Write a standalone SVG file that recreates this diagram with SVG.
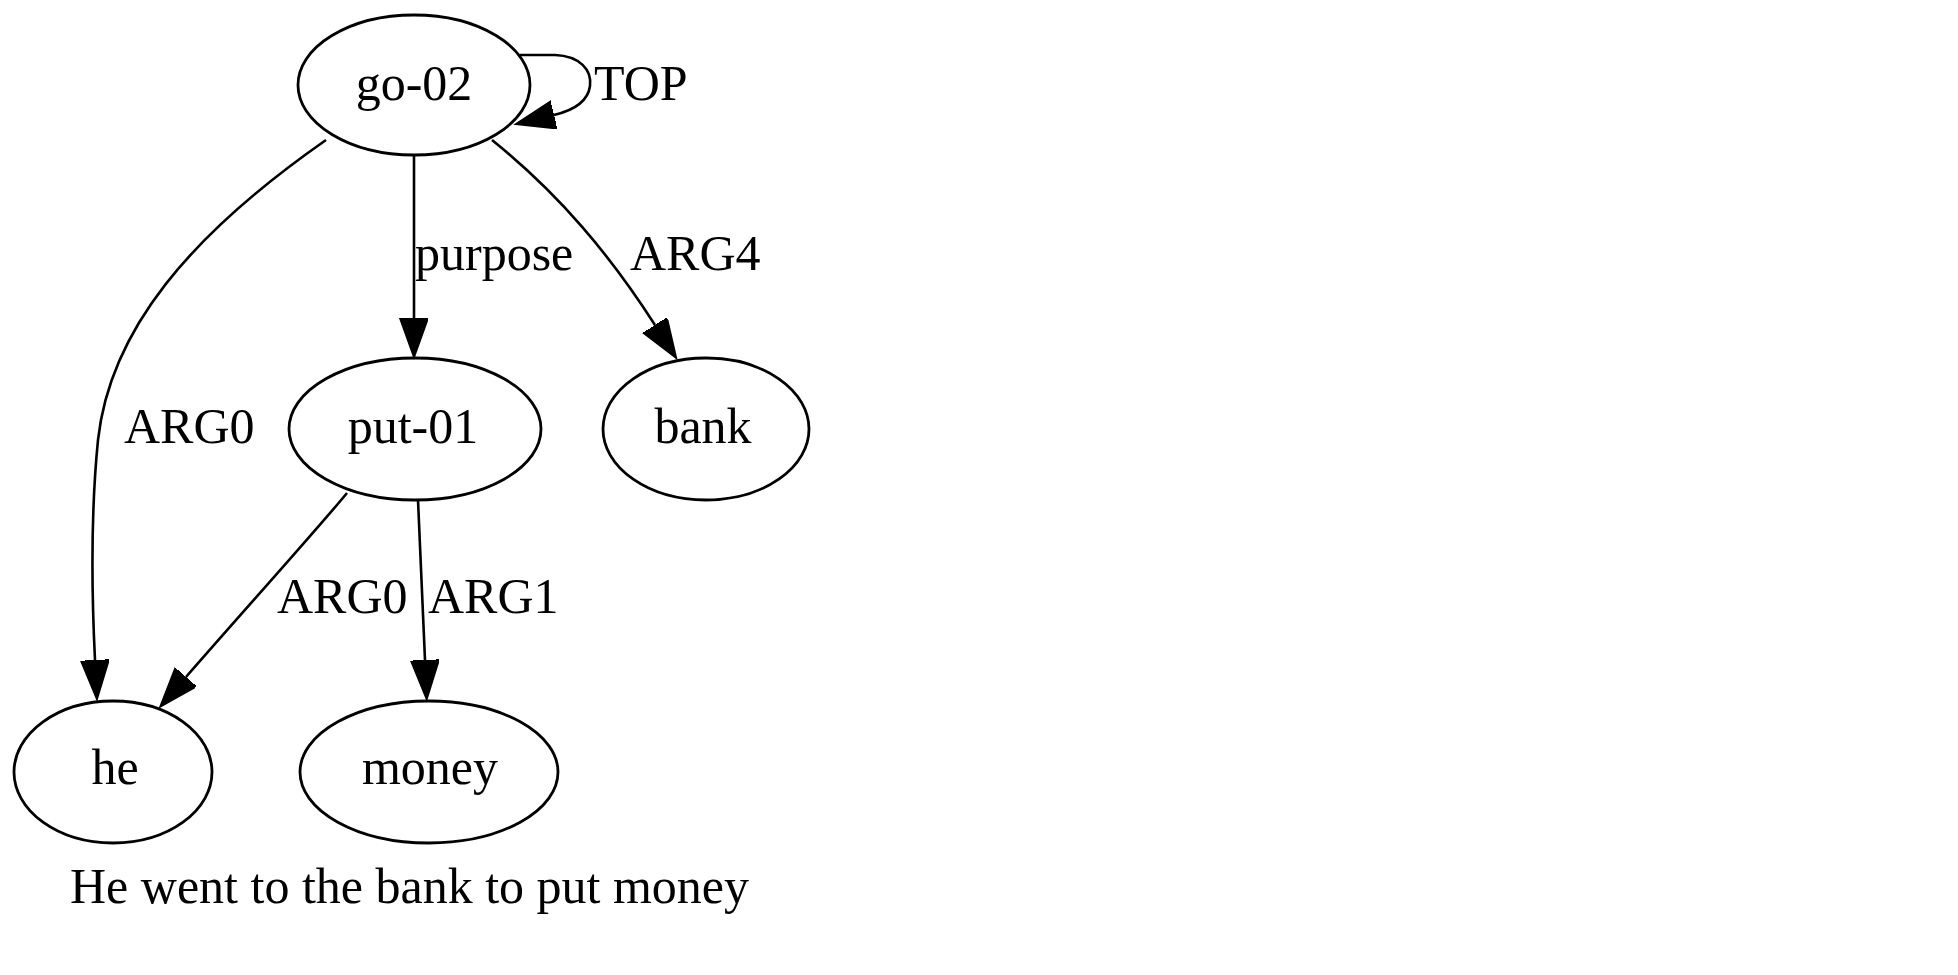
<svg xmlns="http://www.w3.org/2000/svg" width="1958" height="975" viewBox="0 0 1958 975">
<style>
  .node ellipse { fill: none; stroke: #000; stroke-width: 2.8; }
  text { font-family: "Liberation Serif", "Times New Roman", serif; font-size: 50px; fill: #000; }
  .nl { text-anchor: middle; }
  .edge { fill: none; stroke: #000; stroke-width: 2.6; marker-end: url(#arr); }
</style>
<defs>
  <marker id="arr" markerUnits="userSpaceOnUse" markerWidth="42" markerHeight="30" refX="0" refY="14" orient="auto">
    <path d="M0,0 L39,14 L0,28 Z" fill="#000" stroke="#000" stroke-width="2"/>
  </marker>
</defs>
<rect width="1958" height="975" fill="#fff"/>
<g id="connectors">
  <path class="edge" d="M520,55 L555,55 C580,56 592,70 590,86 C588,101 575,110 554,115"/>
  <path class="edge" d="M414,155 L414,318"/>
  <path class="edge" d="M492,140 C560,195 610,255 655,325"/>
  <path class="edge" d="M326,140 C190,235 110,330 98,440 C90,520 92,600 95,660"/>
  <path class="edge" d="M347,493 C320,526 240,615 186,677"/>
  <path class="edge" d="M418,500 L425,660"/>
  <text x="594" y="100">TOP</text>
  <text x="415" y="270">purpose</text>
  <text x="630" y="270">ARG4</text>
  <text x="124" y="443">ARG0</text>
  <text x="277" y="613">ARG0</text>
  <text x="428" y="613">ARG1</text>
</g>
<g id="go-02" class="node">
  <ellipse cx="414" cy="85" rx="116" ry="70"/>
  <text class="nl" x="414" y="100">go-02</text>
</g>
<g id="put-01" class="node">
  <ellipse cx="415" cy="429" rx="126" ry="71"/>
  <text class="nl" x="413" y="443">put-01</text>
</g>
<g id="bank" class="node">
  <ellipse cx="706" cy="429" rx="103" ry="71"/>
  <text class="nl" x="703" y="443">bank</text>
</g>
<g id="he" class="node">
  <ellipse cx="113" cy="772" rx="99" ry="71"/>
  <text class="nl" x="115" y="784">he</text>
</g>
<g id="money" class="node">
  <ellipse cx="429" cy="772" rx="129" ry="71"/>
  <text class="nl" x="430" y="784">money</text>
</g>
<text x="70" y="903">He went to the bank to put money</text>
</svg>
